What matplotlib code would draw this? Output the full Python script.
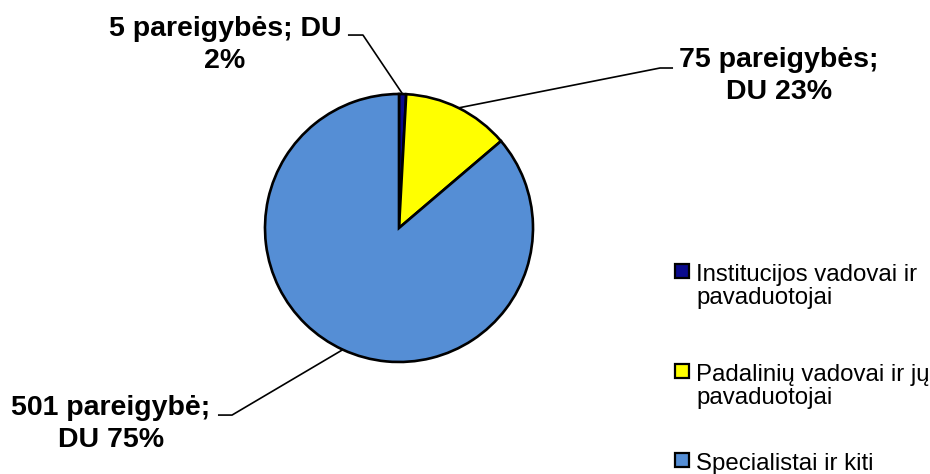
"""Pie chart: pareigybės and DU share by group."""
import numpy as np
import matplotlib.pyplot as plt
from matplotlib.patches import Rectangle

plt.rcParams["font.family"] = ["Liberation Sans", "DejaVu Sans"]

# data
categories = [
    "Institucijos vadovai ir\npavaduotojai",
    "Padalinių vadovai ir jų\npavaduotojai",
    "Specialistai ir kiti",
]
positions = [5, 75, 501]
du_share = [2, 23, 75]
slice_labels = [
    f"{positions[0]} pareigybės; DU\n{du_share[0]}%",
    f"{positions[1]} pareigybės;\nDU {du_share[1]}%",
    f"{positions[2]} pareigybė;\nDU {du_share[2]}%",
]

COLORS = ["#0A0A8C", "#FFFF00", "#558ED5"]
W, H = 930, 474

# label placement (pie radius = 1): elbow of leader, end of leader, text centre
LAYOUT = [
    ((-0.269, 1.440), (-0.381, 1.440), (-1.299, 1.366)),
    ((1.948, 1.194), (2.045, 1.194), (2.836, 1.134)),
    ((-1.246, -1.396), (-1.351, -1.396), (-2.149, -1.463)),
]
# legend rows: first-line baseline in px from top, and line step
LEGEND_BASELINES = [281, 381, 470]
LEGEND_STEP = 23

fig = plt.figure(figsize=(W / 100, H / 100), dpi=100)
ax = fig.add_axes([0, 0, 1, 1])

wedges, _ = ax.pie(
    positions,
    colors=COLORS,
    startangle=90,
    counterclock=False,
    wedgeprops=dict(edgecolor="black", linewidth=1.9),
)

for w, lab, (elbow, end, txt) in zip(wedges, slice_labels, LAYOUT):
    mid = np.deg2rad((w.theta1 + w.theta2) / 2)
    ex, ey = np.cos(mid), np.sin(mid)
    ax.plot([ex, elbow[0], end[0]], [ey, elbow[1], end[1]],
            color="black", lw=1.2, solid_capstyle="butt")
    ax.text(txt[0], txt[1], lab, ha="center", va="center",
            fontsize=20.5, fontweight="bold", linespacing=1.33)

# centre at (399, 228) px, radius 134 px
ax.set_xlim(-399 / 134, (W - 399) / 134)
ax.set_ylim(-(H - 228) / 134, 228 / 134)
ax.set_aspect("equal")
ax.axis("off")

# legend drawn by hand so the key square sits on the first text line
for w, lab, base in zip(wedges, categories, LEGEND_BASELINES):
    fig.add_artist(Rectangle(
        (675 / W, 1 - (base - 3) / H), 14 / W, 14 / H,
        transform=fig.transFigure,
        facecolor=w.get_facecolor(), edgecolor="black", linewidth=1.6,
    ))
    # va="baseline" pins the last line, so shift down by the extra lines
    last = base + LEGEND_STEP * lab.count("\n")
    fig.text(696 / W, 1 - last / H, lab, ha="left", va="baseline",
             fontsize=17.3, linespacing=1.04)

fig.savefig("out.png", dpi=100)
